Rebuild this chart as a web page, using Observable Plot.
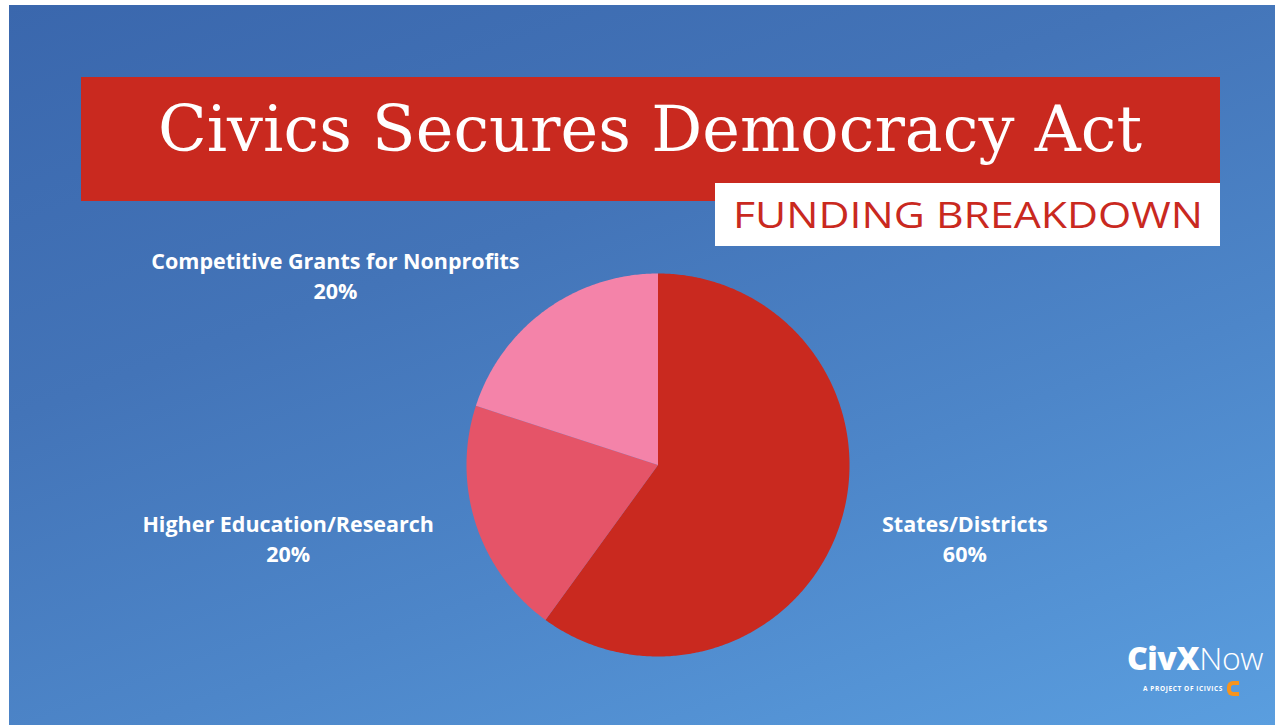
<!DOCTYPE html>
<html>
<head>
<meta charset="utf-8">
<script src="https://cdn.jsdelivr.net/npm/d3@7"></script>
<script src="https://cdn.jsdelivr.net/npm/@observablehq/plot@0.6"></script>
<style>
  html, body { margin: 0; padding: 0; background: #fff; }
  body { width: 1275px; height: 725px; position: relative; overflow: hidden; }
  #bg { position: absolute; left: 9px; top: 5px; width: 1266px; height: 720px;
        background: linear-gradient(160deg, #3a67ad 0%, #4374b8 35%, #4d86c9 65%, #5a9edf 100%); }
  #chart { position: absolute; left: 0; top: 0; }
  #titlebox { position: absolute; left: 81px; top: 77px; width: 1139px; height: 124px; background: #c9291f; }
  #title { position: absolute; left: 158px; top: 98px; font-family: "DejaVu Serif", serif; font-size: 63px; color: #fff;
           white-space: nowrap; transform-origin: 0 0; line-height: 1; }
  #subbox { position: absolute; left: 715px; top: 183px; width: 505px; height: 63px; background: #fff; }
  #sub { position: absolute; left: 733px; top: 195px; font-family: "Open Sans", sans-serif; font-size: 37px; color: #c9291f;
         white-space: nowrap; transform-origin: 0 0; line-height: 1; }
  #logo { position: absolute; left: 1127px; top: 642px; color: #fff; font-family: "Open Sans", sans-serif; }
  #logo .main { font-size: 32px; line-height: 1; letter-spacing: -0.4px; }
  #logo .main b { font-weight: 800; }
  #logo .main span { font-weight: 300; }
  #logo .tag { font-size: 6.5px; font-weight: 700; letter-spacing: 0.6px; margin-top: 7px; margin-left: 16px; display: flex; align-items: center; }
  #logo .tag i { display: inline-block; width: 12px; height: 15px; border: 4.5px solid #f7941d; border-right: none; border-radius: 6px 0 0 6px; margin-left: 4px; box-sizing: border-box; }
</style>
</head>
<body>
<div id="bg"></div>
<div id="titlebox"></div>
<div id="title">Civics Secures Democracy Act</div>
<div id="subbox"></div>
<div id="sub">FUNDING BREAKDOWN</div>
<div id="chart"></div>
<div id="logo"><div class="main"><b>CivX</b><span>Now</span></div><div class="tag">A PROJECT OF iCIVICS<i></i></div></div>
<script>
// ---- data ----
const categories = ["States/Districts", "Higher Education/Research", "Competitive Grants for Nonprofits"];
const shares = [60, 20, 20];
const colors = ["#c9291f", "#e55468", "#f483a9"];

// fit header texts to reference widths
function fit(id, target) {
  const el = document.getElementById(id);
  const w = el.getBoundingClientRect().width;
  el.style.transform = `scaleX(${target / w})`;
}
fit("title", 984);
fit("sub", 470);

// pie geometry via d3.pie (angles measured clockwise from 12 o'clock)
const arcs = d3.pie().sort(null).value(d => d.value)(
  categories.map((name, i) => ({name, value: shares[i]}))
);
const pts = [];
for (const a of arcs) {
  const n = Math.max(2, Math.ceil((a.endAngle - a.startAngle) / 0.01));
  pts.push({name: a.data.name, x: 0, y: 0});
  for (let k = 0; k <= n; k++) {
    const t = a.startAngle + (a.endAngle - a.startAngle) * k / n;
    pts.push({name: a.data.name, x: Math.sin(t), y: -Math.cos(t)});
  }
  pts.push({name: a.data.name, x: 0, y: 0});
}

// labels: anchored just outside the slice centroid direction, block centred on its own width
const R = 191.5;
const FS = 21.5;
const ctx = document.createElement("canvas").getContext("2d");
ctx.font = `bold ${FS}px 'Open Sans'`;
const labels = arcs.map(a => {
  const mid = (a.startAngle + a.endAngle) / 2;
  const ax = Math.sin(mid) * 1.23, ay = -Math.cos(mid) * 1.23;
  const w = ctx.measureText(a.data.name).width / R;
  return {text: `${a.data.name}\n${a.data.value}%`, x: ax + Math.sign(ax) * w / 2, y: ay};
});

const plot = Plot.plot({
  width: 1275, height: 725,
  marginTop: 0, marginRight: 0, marginBottom: 0, marginLeft: 0,
  style: {background: "transparent", overflow: "visible"},
  x: {domain: [-1, 1], range: [657.5 - R, 657.5 + R], axis: null},
  y: {domain: [-1, 1], range: [464.5 - R, 464.5 + R], axis: null},
  color: {domain: categories, range: colors},
  marks: [
    Plot.line(pts, {x: "x", y: "y", z: "name", fill: "name", stroke: null, curve: "linear"}),
    Plot.text(labels, {x: "x", y: "y", text: "text", fill: "white", fontSize: FS, fontWeight: "bold",
      fontFamily: "Open Sans", lineHeight: 1.4, textAnchor: "middle", lineAnchor: "middle"})
  ]
});
document.getElementById("chart").appendChild(plot);
</script>
</body>
</html>
